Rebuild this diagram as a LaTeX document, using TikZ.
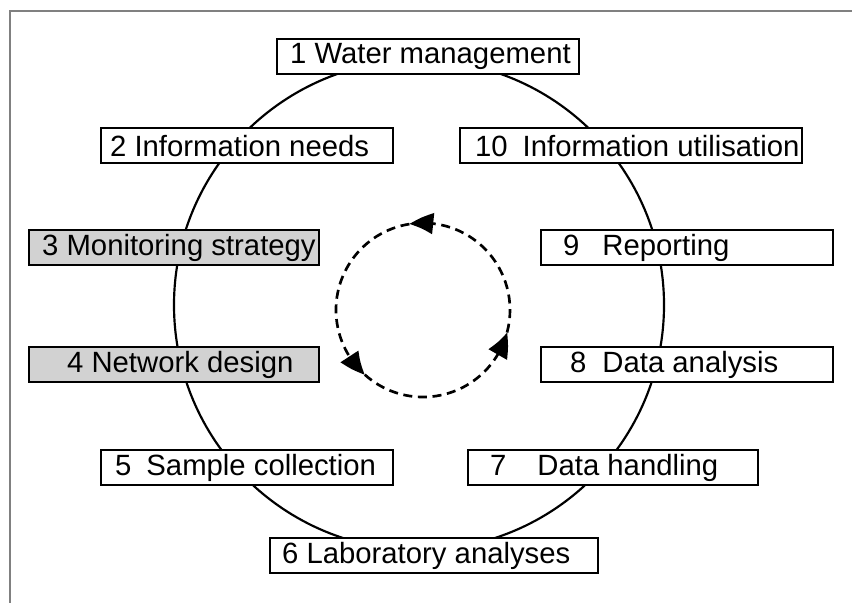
\documentclass[tikz,border=0pt]{standalone}
\usepackage{fontspec}
\setmainfont{Liberation Sans}
\usetikzlibrary{arrows.meta,bending}
\newdimen\px \px=0.03cm
\newcommand{\stagetext}[3]{\makebox[#1\px][l]{\hspace*{#2\px}#3}}
\tikzset{
	stage/.style={draw, line width=0.07cm, fill=white, inner sep=0pt, minimum height=1.05cm, anchor=north west, font=\fontsize{25}{29}\selectfont},
	chosen/.style={stage, fill=gray!35},
	cycle arrow/.style={dash pattern=on 0.27cm off 0.17cm, line width=0.08cm, arrows=-{Triangle[length=0.72cm,width=0.62cm,bend]}}
}
\begin{document}
\begin{tikzpicture}[x=0.03cm,y=-0.03cm]
	\useasboundingbox (0,0) rectangle (852,603);
	% Frame
	\draw [gray, line width=0.06cm] (852,11) -- (10,11) -- (10,603);
	% Cycle
	\coordinate (hub) at (419,305);
	\draw [line width=0.065cm] (hub) circle [radius=245];
	\node[stage] (s1) at (276,38) {\stagetext{302}{13}{1 Water management}};
	\node[stage] (s2) at (100,127) {\stagetext{292}{9}{2 Information needs}};
	\node[chosen] (s3) at (28,229) {\stagetext{290}{13}{3 Monitoring strategy}};
	\node[chosen] (s4) at (28,346) {\stagetext{290}{38}{4 Network design}};
	\node[stage] (s5) at (100,449) {\stagetext{292}{14}{5\hspace{15\px}Sample collection}};
	\node[stage] (s6) at (269,537) {\stagetext{328}{12}{6 Laboratory analyses}};
	\node[stage] (s7) at (467,449) {\stagetext{290}{22}{7\hspace{31\px}Data handling}};
	\node[stage] (s8) at (540,346) {\stagetext{292}{29}{8\hspace{16\px}Data analysis}};
	\node[stage] (s9) at (540,229) {\stagetext{292}{22}{9\hspace{23\px}Reporting}};
	\node[stage] (s10) at (459,127) {\stagetext{342}{15}{10\hspace{15\px}Information utilisation}};
	% Inner loop
	\begin{scope}[shift={(423,310)}, y=0.03cm]
		\draw [cycle arrow] (-15:87) arc [start angle=-15, end angle=99, radius=87];
		\draw [cycle arrow] (99:87) arc [start angle=99, end angle=228, radius=87];
		\draw [cycle arrow] (228:87) arc [start angle=228, end angle=345, radius=87];
	\end{scope}
\end{tikzpicture}
\end{document}
